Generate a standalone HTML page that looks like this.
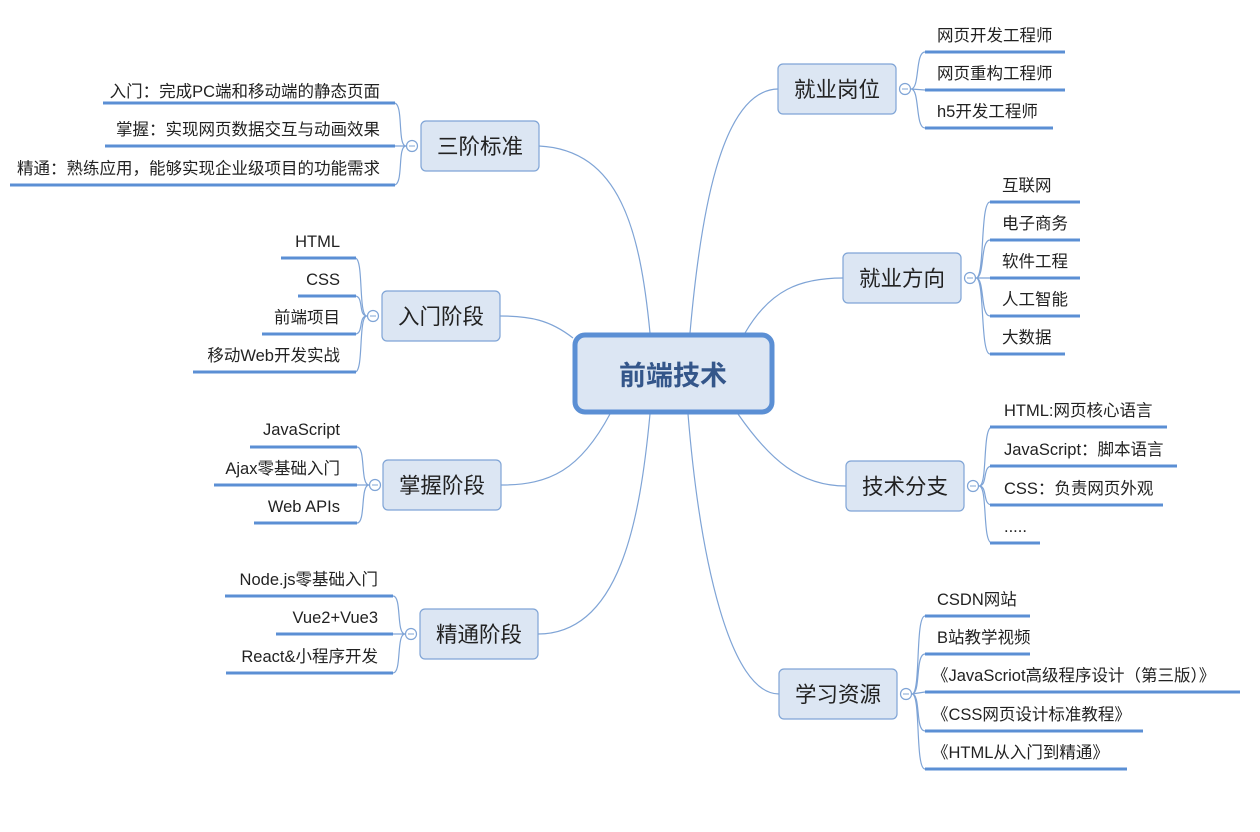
<!DOCTYPE html>
<html><head><meta charset="utf-8"><style>
html,body{margin:0;padding:0;background:#fff;}
svg{display:block;}
text{font-family:"Liberation Sans","Noto Sans CJK SC",sans-serif;fill:#222;}
.leaf{font-size:16.5px;}
.br{font-size:21.5px;}
.ln{stroke:#5b8fd4;stroke-width:3;}
.c{fill:none;stroke:#7fa4d6;stroke-width:1.2;}
.node{fill:#dce6f3;stroke:#7fa4d6;stroke-width:1.2;}
.tog{fill:#fff;stroke:#7fa4d6;stroke-width:1.2;}
</style></head><body>
<svg width="1260" height="832" viewBox="0 0 1260 832" xmlns="http://www.w3.org/2000/svg">
<path class="c" d="M650,333 C640,230 620,150 539,146"/>
<path class="c" d="M690,333 C700,220 720,90 778,89"/>
<path class="c" d="M745,333 C770,290 800,278 843,278"/>
<path class="c" d="M573,338 C550,320 530,316 500,316"/>
<path class="c" d="M610,414 C580,470 550,485 501,485"/>
<path class="c" d="M650,414 C640,520 620,634 538,634"/>
<path class="c" d="M738,414 C770,460 800,486 846,486"/>
<path class="c" d="M688,414 C700,560 730,694 779,694"/>

<rect x="575" y="335" width="197" height="77" rx="10" fill="#dce6f3" stroke="#5b8fd4" stroke-width="5"/>
<text x="673" y="385" text-anchor="middle" style="font-size:27px;font-weight:bold;fill:#34568a">前端技术</text>

<rect class="node" x="778" y="64" width="118" height="50" rx="5"/>
<text class="br" x="837" y="97" text-anchor="middle">就业岗位</text>
<path class="c" d="M911,89 C920,89 915,52 925,52 M911,89 L925,90 M911,89 C920,89 915,128 925,128"/>
<circle class="tog" cx="905" cy="89" r="5.5"/><line x1="902" y1="89" x2="908" y2="89" stroke="#7fa4d6"/>
<line class="ln" x1="925" y1="52" x2="1065" y2="52"/><text class="leaf" x="937" y="41">网页开发工程师</text>
<line class="ln" x1="925" y1="90" x2="1065" y2="90"/><text class="leaf" x="937" y="79">网页重构工程师</text>
<line class="ln" x1="925" y1="128" x2="1053" y2="128"/><text class="leaf" x="937" y="117">h5开发工程师</text>

<rect class="node" x="843" y="253" width="118" height="50" rx="5"/>
<text class="br" x="902" y="286" text-anchor="middle">就业方向</text>
<path class="c" d="M976,278 C985,278 980,202 990,202 M976,278 C985,278 980,240 990,240 M976,278 L990,278 M976,278 C985,278 980,316 990,316 M976,278 C985,278 980,354 990,354"/>
<circle class="tog" cx="970" cy="278" r="5.5"/><line x1="967" y1="278" x2="973" y2="278" stroke="#7fa4d6"/>
<line class="ln" x1="990" y1="202" x2="1080" y2="202"/><text class="leaf" x="1002" y="191">互联网</text>
<line class="ln" x1="990" y1="240" x2="1080" y2="240"/><text class="leaf" x="1002" y="229">电子商务</text>
<line class="ln" x1="990" y1="278" x2="1080" y2="278"/><text class="leaf" x="1002" y="267">软件工程</text>
<line class="ln" x1="990" y1="316" x2="1080" y2="316"/><text class="leaf" x="1002" y="305">人工智能</text>
<line class="ln" x1="990" y1="354" x2="1065" y2="354"/><text class="leaf" x="1002" y="343">大数据</text>

<rect class="node" x="846" y="461" width="118" height="50" rx="5"/>
<text class="br" x="905" y="494" text-anchor="middle">技术分支</text>
<path class="c" d="M979,486 C988,486 982,427 992,427 M979,486 C988,486 982,466 992,466 M979,486 C988,486 982,505 992,505 M979,486 C988,486 982,543 992,543"/>
<circle class="tog" cx="973" cy="486" r="5.5"/><line x1="970" y1="486" x2="976" y2="486" stroke="#7fa4d6"/>
<line class="ln" x1="990" y1="427" x2="1167" y2="427"/><text class="leaf" x="1004" y="416">HTML:网页核心语言</text>
<line class="ln" x1="990" y1="466" x2="1177" y2="466"/><text class="leaf" x="1004" y="455">JavaScript：脚本语言</text>
<line class="ln" x1="990" y1="505" x2="1163" y2="505"/><text class="leaf" x="1004" y="494">CSS：负责网页外观</text>
<line class="ln" x1="990" y1="543" x2="1040" y2="543"/><text class="leaf" x="1004" y="532">.....</text>

<rect class="node" x="779" y="669" width="118" height="50" rx="5"/>
<text class="br" x="838" y="702" text-anchor="middle">学习资源</text>
<path class="c" d="M912,694 C921,694 915,616 925,616 M912,694 C921,694 915,654 925,654 M912,694 L925,692 M912,694 C921,694 915,731 925,731 M912,694 C921,694 915,769 925,769"/>
<circle class="tog" cx="906" cy="694" r="5.5"/><line x1="903" y1="694" x2="909" y2="694" stroke="#7fa4d6"/>
<line class="ln" x1="925" y1="616" x2="1030" y2="616"/><text class="leaf" x="937" y="605">CSDN网站</text>
<line class="ln" x1="925" y1="654" x2="1030" y2="654"/><text class="leaf" x="937" y="643">B站教学视频</text>
<line class="ln" x1="925" y1="692" x2="1240" y2="692"/><text class="leaf" x="932" y="681">《JavaScriot高级程序设计（第三版）》</text>
<line class="ln" x1="925" y1="731" x2="1143" y2="731"/><text class="leaf" x="932" y="720">《CSS网页设计标准教程》</text>
<line class="ln" x1="925" y1="769" x2="1127" y2="769"/><text class="leaf" x="932" y="758">《HTML从入门到精通》</text>

<rect class="node" x="421" y="121" width="118" height="50" rx="5"/>
<text class="br" x="480" y="154" text-anchor="middle">三阶标准</text>
<path class="c" d="M406,146 C397,146 404,103 394,103 M406,146 L394,146 M406,146 C397,146 404,185 394,185"/>
<circle class="tog" cx="412" cy="146" r="5.5"/><line x1="409" y1="146" x2="415" y2="146" stroke="#7fa4d6"/>
<line class="ln" x1="103" y1="103" x2="395" y2="103"/><text class="leaf" x="380" y="97" text-anchor="end">入门：完成PC端和移动端的静态页面</text>
<line class="ln" x1="105" y1="146" x2="395" y2="146"/><text class="leaf" x="380" y="135" text-anchor="end">掌握：实现网页数据交互与动画效果</text>
<line class="ln" x1="10" y1="185" x2="395" y2="185"/><text class="leaf" x="380" y="174" text-anchor="end">精通：熟练应用，能够实现企业级项目的功能需求</text>

<rect class="node" x="382" y="291" width="118" height="50" rx="5"/>
<text class="br" x="441" y="324" text-anchor="middle">入门阶段</text>
<path class="c" d="M367,316 C358,316 364,258 355,258 M367,316 C358,316 364,296 355,296 M367,316 C358,316 364,334 355,334 M367,316 C358,316 364,372 355,372"/>
<circle class="tog" cx="373" cy="316" r="5.5"/><line x1="370" y1="316" x2="376" y2="316" stroke="#7fa4d6"/>
<line class="ln" x1="281" y1="258" x2="356" y2="258"/><text class="leaf" x="340" y="247" text-anchor="end">HTML</text>
<line class="ln" x1="298" y1="296" x2="356" y2="296"/><text class="leaf" x="340" y="285" text-anchor="end">CSS</text>
<line class="ln" x1="262" y1="334" x2="356" y2="334"/><text class="leaf" x="340" y="323" text-anchor="end">前端项目</text>
<line class="ln" x1="193" y1="372" x2="356" y2="372"/><text class="leaf" x="340" y="361" text-anchor="end">移动Web开发实战</text>

<rect class="node" x="383" y="460" width="118" height="50" rx="5"/>
<text class="br" x="442" y="493" text-anchor="middle">掌握阶段</text>
<path class="c" d="M369,485 C360,485 366,447 357,447 M369,485 L357,485 M369,485 C360,485 366,523 357,523"/>
<circle class="tog" cx="375" cy="485" r="5.5"/><line x1="372" y1="485" x2="378" y2="485" stroke="#7fa4d6"/>
<line class="ln" x1="250" y1="447" x2="357" y2="447"/><text class="leaf" x="340" y="435" text-anchor="end">JavaScript</text>
<line class="ln" x1="214" y1="485" x2="357" y2="485"/><text class="leaf" x="340" y="474" text-anchor="end">Ajax零基础入门</text>
<line class="ln" x1="254" y1="523" x2="357" y2="523"/><text class="leaf" x="340" y="512" text-anchor="end">Web APIs</text>

<rect class="node" x="420" y="609" width="118" height="50" rx="5"/>
<text class="br" x="479" y="642" text-anchor="middle">精通阶段</text>
<path class="c" d="M405,634 C396,634 402,596 393,596 M405,634 L393,634 M405,634 C396,634 402,673 393,673"/>
<circle class="tog" cx="411" cy="634" r="5.5"/><line x1="408" y1="634" x2="414" y2="634" stroke="#7fa4d6"/>
<line class="ln" x1="225" y1="596" x2="393" y2="596"/><text class="leaf" x="378" y="585" text-anchor="end">Node.js零基础入门</text>
<line class="ln" x1="276" y1="634" x2="393" y2="634"/><text class="leaf" x="378" y="623" text-anchor="end">Vue2+Vue3</text>
<line class="ln" x1="226" y1="673" x2="393" y2="673"/><text class="leaf" x="378" y="662" text-anchor="end">React&amp;小程序开发</text>
</svg>
</body></html>
